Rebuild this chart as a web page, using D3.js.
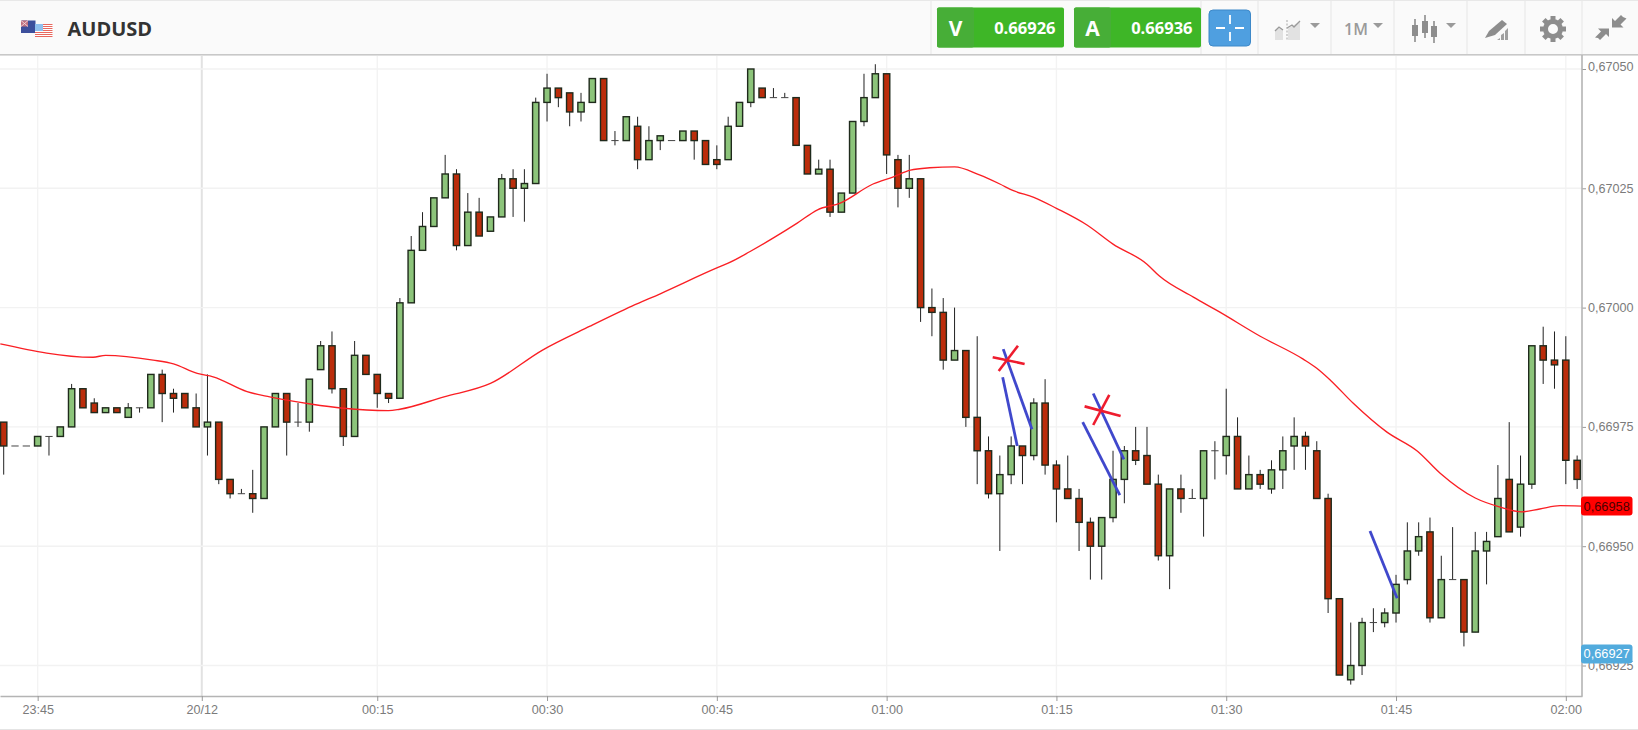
<!DOCTYPE html>
<html lang="en">
<head>
<meta charset="UTF-8">
<title>AUDUSD</title>
<style>
    html, body { margin: 0; padding: 0; background: #fff; overflow: hidden; }
    svg { display: block; font-family: "Liberation Sans", Arial, sans-serif; }
    .axis text { fill: #7b7b7b; font-size: 12.6px; font-family: "Liberation Sans", Arial, sans-serif; }
</style>
<script src="https://d3js.org/d3.v7.min.js"></script>
</head>
<body>
<script>
// prices are in 1/100000, e.g. 66976 = 0,66976. one candle per minute from 23:42
var startTime = new Date(2019, 11, 19, 23, 42);

var opens = [
    66976, 66971, 66971, 66971, 66973, 66973, 66975, 66983, 66980, 66978,
    66979, 66977, 66979, 66979, 66986, 66982, 66982, 66979, 66975, 66976,
    66964, 66961, 66961, 66960, 66975, 66982, 66976, 66976, 66987, 66992,
    66983, 66973, 66990, 66986, 66982, 66981, 67001, 67012, 67017, 67023,
    67028, 67013, 67020, 67016, 67019, 67027, 67025, 67026, 67043, 67046,
    67045, 67041, 67043, 67048, 67035, 67035, 67038, 67031, 67035, 67035,
    67035, 67037, 67035, 67031, 67031, 67038, 67043, 67046, 67044, 67044,
    67044, 67034, 67028, 67029, 67020, 67024, 67039, 67044, 67049, 67031,
    67025, 67027, 67000, 66999, 66989, 66991, 66977, 66970, 66961, 66965,
    66971, 66969, 66980, 66967, 66962, 66960, 66955, 66950, 66956, 66964,
    66970, 66969, 66963, 66948, 66962, 66960, 66960, 66970, 66969, 66973,
    66962, 66965, 66962, 66966, 66971, 66973, 66970, 66960, 66939, 66922,
    66925, 66934, 66934, 66936, 66943, 66949, 66953, 66935, 66943, 66943,
    66932, 66949, 66952, 66964, 66954, 66963, 66992, 66989, 66989, 66968
];
var highs = [
    66976, 66971, 66971, 66973, 66973, 66975, 66984, 66983, 66981, 66979,
    66979, 66980, 66979, 66986, 66987, 66983, 66982, 66982, 66986, 66976,
    66964, 66962, 66966, 66975, 66982, 66982, 66980, 66985, 66993, 66995,
    66983, 66993, 66990, 66986, 66982, 67002, 67015, 67020, 67023, 67032,
    67029, 67024, 67023, 67019, 67028, 67029, 67029, 67044, 67049, 67046,
    67045, 67045, 67048, 67048, 67037, 67040, 67040, 67038, 67036, 67035,
    67037, 67037, 67035, 67034, 67040, 67043, 67050, 67046, 67046, 67045,
    67044, 67034, 67031, 67031, 67024, 67039, 67049, 67051, 67049, 67032,
    67032, 67027, 67004, 67002, 67000, 66991, 66994, 66973, 66969, 66973,
    66971, 66981, 66985, 66968, 66969, 66962, 66956, 66956, 66970, 66971,
    66975, 66975, 66965, 66962, 66965, 66962, 66970, 66972, 66983, 66977,
    66969, 66966, 66968, 66973, 66977, 66974, 66972, 66961, 66939, 66934,
    66935, 66937, 66937, 66944, 66955, 66955, 66956, 66948, 66954, 66943,
    66953, 66953, 66967, 66976, 66969, 66992, 66996, 66995, 66994, 66969
];
var lows = [
    66965, 66971, 66971, 66971, 66969, 66973, 66975, 66979, 66978, 66978,
    66978, 66977, 66978, 66979, 66976, 66978, 66979, 66975, 66969, 66963,
    66960, 66961, 66957, 66960, 66975, 66969, 66975, 66974, 66987, 66982,
    66971, 66973, 66986, 66979, 66980, 66981, 67001, 67012, 67017, 67023,
    67012, 67013, 67015, 67016, 67019, 67019, 67018, 67026, 67039, 67042,
    67038, 67039, 67043, 67035, 67034, 67035, 67029, 67031, 67033, 67035,
    67035, 67031, 67030, 67029, 67031, 67038, 67042, 67044, 67044, 67044,
    67034, 67028, 67028, 67019, 67020, 67024, 67038, 67044, 67028, 67021,
    67023, 66997, 66994, 66987, 66989, 66975, 66963, 66960, 66949, 66963,
    66963, 66968, 66965, 66955, 66960, 66949, 66943, 66943, 66955, 66959,
    66967, 66963, 66947, 66941, 66957, 66960, 66952, 66964, 66965, 66962,
    66962, 66962, 66961, 66962, 66966, 66966, 66960, 66936, 66923, 66921,
    66923, 66932, 66933, 66934, 66942, 66948, 66934, 66935, 66943, 66929,
    66932, 66942, 66952, 66953, 66952, 66962, 66984, 66983, 66963, 66962
];
var closes = [
    66971, 66971, 66971, 66973, 66973, 66975, 66983, 66979, 66978, 66979,
    66978, 66979, 66979, 66986, 66982, 66981, 66979, 66975, 66976, 66964,
    66961, 66961, 66960, 66975, 66982, 66976, 66976, 66985, 66992, 66983,
    66973, 66990, 66986, 66982, 66981, 67001, 67012, 67017, 67023, 67028,
    67013, 67020, 67015, 67019, 67027, 67025, 67026, 67043, 67046, 67044,
    67041, 67043, 67048, 67035, 67035, 67040, 67031, 67035, 67036, 67035,
    67037, 67035, 67030, 67030, 67038, 67043, 67050, 67044, 67044, 67044,
    67034, 67028, 67029, 67020, 67024, 67039, 67044, 67049, 67032, 67025,
    67027, 67000, 66999, 66989, 66991, 66977, 66970, 66961, 66965, 66971,
    66969, 66980, 66967, 66962, 66960, 66955, 66950, 66956, 66964, 66970,
    66968, 66963, 66948, 66962, 66960, 66960, 66970, 66970, 66973, 66962,
    66965, 66963, 66966, 66970, 66973, 66971, 66960, 66939, 66923, 66925,
    66934, 66934, 66936, 66942, 66949, 66952, 66935, 66943, 66943, 66932,
    66949, 66951, 66960, 66953, 66963, 66992, 66989, 66988, 66968, 66964
];

// moving average: minutes after startTime, price
var maMinutes = [
    -0.3, 7.9, 9, 13.2, 15, 17.1, 18.5, 21.5, 23.5, 27.1, 30, 34, 35, 38.9, 43, 47.6, 51.8, 55.5,
    58, 63, 64, 65.9, 68, 70.1, 71.9, 73.9, 76.8, 78.6, 80.1, 81.8, 84, 86.2, 88, 89.2, 91, 93,
    95.7, 98, 101, 102.1, 105.1, 107.4, 111, 114.8, 116, 117.2, 119.2, 122.2, 124.9, 126.9,
    130, 132.2, 134.1, 135.7, 137.5, 139.4
];
var maValues = [
    66992.4, 66989.6, 66990, 66989, 66988.2, 66986.2, 66985.5, 66982.4, 66981.3, 66979.8, 66978.9,
    66978.4, 66978.7, 66981.3, 66984.1, 66991.1, 66996.1, 67000.3, 67002.9, 67008.3, 67009.3,
    67011.7, 67014.6, 67017.7, 67020.5, 67021.9, 67025.9, 67027.4, 67028.8, 67029.3, 67029.5,
    67027.8, 67025.9, 67024.5, 67023.1, 67020.8, 67017.3, 67013.3, 67009.1, 67006.6, 67002.2,
    66999.1, 66994, 66989.2, 66987.3, 66984.8, 66980, 66973.9, 66969.9, 66965.3, 66960.1,
    66958.2, 66957.2, 66957.8, 66958.5, 66958.4
];

// hand drawn marks on the chart: [minute, price, minute, price]
var blueStrokes = [
    [88.25, 66985.4, 89.54, 66971],
    [88.3, 66991.3, 90.84, 66974.5],
    [95.32, 66976, 98.6, 66960.7],
    [96.25, 66982, 98.96, 66968.2],
    [120.7, 66953.2, 123.1, 66939.1]
];
var redStrokes = [
    [87.37, 66989.6, 90.19, 66988.2],
    [89.6, 66992, 87.9, 66986.7],
    [95.49, 66979.3, 98.67, 66977.3],
    [97.67, 66981.7, 96.25, 66975.4]
];

var priceTicks = [67050, 67025, 67000, 66975, 66950, 66925];
var bidPrice = 66926, askPrice = 66936;
var maPrice = 66958, currentPrice = 66927;

var width = 1638, height = 730;
var chart = { left: 0, right: 1582, top: 56, bottom: 696.5 };

function minuteToDate(m) { return new Date(+startTime + m * 60000); }
function fmtPrice(v) { return (v / 100000).toFixed(5); }

var x = d3.scaleTime()
    .domain([minuteToDate(-0.327), minuteToDate(139.43)])
    .range([chart.left, chart.right]);
var y = d3.scaleLinear().domain([66925, 67050]).range([665.5, 69]);

var svg = d3.select("body").append("svg").attr("width", width).attr("height", height);

// header bar
svg.append("rect").attr("width", width).attr("height", 55).attr("fill", "#fafafa");
svg.append("rect").attr("width", width).attr("height", 1).attr("fill", "#e8e8e8");
svg.append("rect").attr("y", 54).attr("width", width).attr("height", 1.6).attr("fill", "#c8c8c8");
svg.append("rect").attr("y", 729).attr("width", width).attr("height", 1).attr("fill", "#e4e4e4");

// the date line sits in the gap before the first candle of the new day
var dayTick = minuteToDate(17.5);
function isDay(d) { return +d === +dayTick; }
var timeTicks = x.ticks(d3.timeMinute.every(15)).map(function(d) {
    return d.getHours() === 0 && d.getMinutes() === 0 ? dayTick : d;
});

// grid
svg.append("g").selectAll("line").data(timeTicks).join("line")
    .attr("x1", d => x(d)).attr("x2", d => x(d))
    .attr("y1", chart.top).attr("y2", chart.bottom)
    .attr("stroke", d => isDay(d) ? "#e2e2e2" : "#f3f3f3")
    .attr("stroke-width", d => isDay(d) ? 2 : 1.4);
svg.append("g").selectAll("line").data(priceTicks).join("line")
    .attr("x1", chart.left).attr("x2", chart.right)
    .attr("y1", d => y(d)).attr("y2", d => y(d))
    .attr("stroke", "#f2f2f2").attr("stroke-width", 1.4);

// axes
var fmtClock = d3.timeFormat("%H:%M");
var xAxis = d3.axisBottom(x).tickValues(timeTicks).tickSizeInner(5).tickSizeOuter(0).tickPadding(4)
    .tickFormat(d => isDay(d) ? "20/12" : fmtClock(d));
var xG = svg.append("g").attr("class", "axis").attr("transform", "translate(0," + (chart.bottom - 0.5) + ")").call(xAxis);
xG.select(".domain").attr("stroke", "#b4b4b4").attr("stroke-width", 1.6);
xG.selectAll(".tick line").attr("stroke", "#999");

var yAxis = d3.axisRight(y).tickValues(priceTicks).tickSize(4).tickPadding(2)
    .tickFormat(d => fmtPrice(d).replace(".", ","));
var yG = svg.append("g").attr("class", "axis").attr("transform", "translate(" + chart.right + ",0)").call(yAxis);
yG.select(".domain").remove();
yG.selectAll(".tick line").attr("stroke", "#999");
// the top label is pushed up a little in the original
yG.selectAll(".tick text").filter(d => d === 67050).attr("dy", "0.15em");
svg.append("line").attr("x1", chart.right).attr("x2", chart.right)
    .attr("y1", chart.top - 1).attr("y2", chart.bottom)
    .attr("stroke", "#b4b4b4").attr("stroke-width", 1.6);

// candles
var candles = opens.map(function(o, i) {
    return { t: minuteToDate(i), o: o, h: highs[i], l: lows[i], c: closes[i] };
});
var bodyW = 6.3;
var candleG = svg.append("g").selectAll("g").data(candles).join("g");
candleG.append("line")
    .attr("x1", d => x(d.t)).attr("x2", d => x(d.t))
    .attr("y1", d => y(d.h)).attr("y2", d => y(d.l))
    .attr("stroke", "#222").attr("stroke-width", 1);
candleG.filter(d => d.o !== d.c).append("rect")
    .attr("x", d => x(d.t) - bodyW / 2)
    .attr("y", d => y(Math.max(d.o, d.c)))
    .attr("width", bodyW)
    .attr("height", d => Math.abs(y(d.o) - y(d.c)))
    .attr("fill", d => d.c > d.o ? "#8cc47a" : "#bb2d0b")
    .attr("stroke", "#1f2a1c").attr("stroke-width", 1.4);
// flat candles are just a dash
candleG.filter(d => d.o === d.c).append("line")
    .attr("x1", d => x(d.t) - bodyW / 2 - 0.5).attr("x2", d => x(d.t) + bodyW / 2 + 0.5)
    .attr("y1", d => y(d.o)).attr("y2", d => y(d.o))
    .attr("stroke", "#444").attr("stroke-width", 1);

// moving average
var maLine = d3.line().x(d => x(minuteToDate(d[0]))).y(d => y(d[1])).curve(d3.curveMonotoneX);
svg.append("path")
    .datum(maMinutes.map((m, i) => [m, maValues[i]]))
    .attr("d", maLine)
    .attr("fill", "none").attr("stroke", "#fa1f24").attr("stroke-width", 1.35);

// hand drawn strokes
function drawStrokes(data, color, w) {
    svg.append("g").selectAll("line").data(data).join("line")
        .attr("x1", d => x(minuteToDate(d[0]))).attr("y1", d => y(d[1]))
        .attr("x2", d => x(minuteToDate(d[2]))).attr("y2", d => y(d[3]))
        .attr("stroke", color).attr("stroke-width", w);
}
drawStrokes(blueStrokes, "#4048cc", 2.8);
drawStrokes(redStrokes, "#ee1c2e", 2.6);

// price badges on the axis
function badge(price, fill, textFill) {
    var g = svg.append("g").attr("transform", "translate(1581," + (y(price) - 2) + ")");
    g.append("rect").attr("y", -9.5).attr("width", 51.5).attr("height", 19).attr("rx", 3).attr("fill", fill);
    g.append("text").attr("x", 25.7).attr("y", 0).attr("dy", "0.35em")
        .attr("text-anchor", "middle").attr("font-size", 12.8).attr("fill", textFill)
        .text(fmtPrice(price).replace(".", ","));
}
badge(maPrice, "#ff0000", "#4a0000");
badge(currentPrice, "#52abdd", "#fff");

// ---- toolbar ----
[931, 1201, 1258, 1331, 1394, 1467, 1525, 1582].forEach(function(sx) {
    svg.append("line").attr("x1", sx).attr("x2", sx).attr("y1", 1).attr("y2", 54)
        .attr("stroke", "#e6e6e6");
});

// flags
var flags = svg.append("g");
flags.append("rect").attr("x", 21).attr("y", 20.5).attr("width", 14.5).attr("height", 12.5).attr("fill", "#3c4f9c");
flags.append("rect").attr("x", 21).attr("y", 20.5).attr("width", 7).attr("height", 6).attr("fill", "#c0707f");
flags.append("path").attr("d", "M21 20.5L28 26.5M28 20.5L21 26.5").attr("stroke", "#f0d8dc").attr("stroke-width", 0.9);
flags.append("rect").attr("x", 35).attr("y", 24).attr("width", 17.5).attr("height", 13).attr("fill", "#fff");
d3.range(0, 7).forEach(function(i) {
    flags.append("rect").attr("x", 35).attr("y", 24 + i * 2).attr("width", 17.5).attr("height", 1)
        .attr("fill", "#e8685f");
});
flags.append("rect").attr("x", 35).attr("y", 24).attr("width", 8).attr("height", 7).attr("fill", "#8fc0ee");

svg.append("text").attr("x", 67.5).attr("y", 36)
    .attr("font-family", "'Open Sans', sans-serif").attr("font-weight", 700).attr("font-size", 20)
    .attr("fill", "#333").text("AUDUSD");

// bid / ask boxes
function quoteBox(bx, letter, price) {
    svg.append("rect").attr("x", bx).attr("y", 7.5).attr("width", 127).attr("height", 40)
        .attr("rx", 2).attr("fill", "#3eb627");
    svg.append("rect").attr("x", bx).attr("y", 7.5).attr("width", 37).attr("height", 40)
        .attr("rx", 2).attr("fill", "#47ae37");
    svg.append("text").attr("x", bx + 18.5).attr("y", 36)
        .attr("text-anchor", "middle").attr("font-family", "'Open Sans', sans-serif")
        .attr("font-weight", 700).attr("font-size", 21).attr("fill", "#fff").text(letter);
    svg.append("text").attr("x", bx + 118.5).attr("y", 33.5)
        .attr("text-anchor", "end").attr("font-family", "'Open Sans', sans-serif")
        .attr("font-weight", 700).attr("font-size", 16.5).attr("fill", "#fff").text(fmtPrice(price));
}
quoteBox(937, "V", bidPrice);
quoteBox(1074, "A", askPrice);

// crosshair button
svg.append("rect").attr("x", 1209).attr("y", 10).attr("width", 41.5).attr("height", 36)
    .attr("rx", 4).attr("fill", "#4f9fe0").attr("stroke", "#3d88c8").attr("stroke-width", 1);
svg.append("path").attr("d", "M1230 15v9M1230 32v9M1216 28h9M1235 28h9")
    .attr("stroke", "#fff").attr("stroke-width", 1.8);

var iconGrey = "#8d8d8d";
function caret(cx) {
    svg.append("path").attr("d", "M" + (cx - 5) + " 23h10l-5 5z").attr("fill", "#9a9a9a");
}
caret(1315); caret(1378); caret(1451);

// chart type icon
svg.append("path").attr("d", "M1275 40V30l4-3 4 3v10zM1288 40V28l6-3 6-4v19z").attr("fill", "#e2e2e2");
svg.append("path").attr("d", "M1275 31l4-4 4 3M1287 28l5-3 2 2 6-6").attr("fill", "none").attr("stroke", "#9a9a9a").attr("stroke-width", 1.3);
svg.append("line").attr("x1", 1287).attr("x2", 1287).attr("y1", 20).attr("y2", 41)
    .attr("stroke", "#a8a8a8").attr("stroke-dasharray", "2 1.5");

svg.append("text").attr("x", 1344).attr("y", 35)
    .attr("font-family", "'Open Sans', sans-serif").attr("font-weight", 600).attr("font-size", 16)
    .attr("fill", "#9a9a9a").text("1M");

// candle icon
[[1415, 25, 36, 19, 42], [1425, 21, 33, 15, 38], [1434, 26, 37, 21, 43]].forEach(function(c) {
    svg.append("line").attr("x1", c[0]).attr("x2", c[0]).attr("y1", c[3]).attr("y2", c[4])
        .attr("stroke", iconGrey).attr("stroke-width", 1.6);
    svg.append("rect").attr("x", c[0] - 3).attr("y", c[1]).attr("width", 6).attr("height", c[2] - c[1])
        .attr("fill", iconGrey);
});

// pencil icon
svg.append("path").attr("d", "M1485 38l4-7 13-11 5 4-12 11z").attr("fill", iconGrey);
svg.append("path").attr("d", "M1497 40l3-2v2zM1501 40v-5l3-2v7zM1505 40V31l3-3v12z").attr("fill", "#a0a0a0");

// gear
var gear = svg.append("g").attr("transform", "translate(1553,29)");
gear.append("circle").attr("r", 7.5).attr("fill", "none").attr("stroke", iconGrey).attr("stroke-width", 5);
d3.range(0, 8).forEach(function(i) {
    gear.append("rect").attr("x", -2.5).attr("y", -13).attr("width", 5).attr("height", 5)
        .attr("fill", iconGrey).attr("transform", "rotate(" + i * 45 + ")");
});

// compress arrows
svg.append("path").attr("d", "M1623 17l-2-2-6 6-3-3v9.5h11.5l-3-3 6-6z").attr("fill", iconGrey);
svg.append("path").attr("d", "M1598 38l2 2 6-6 3 3V28.5h-11l3 3-6 6z").attr("fill", iconGrey);
</script>
</body>
</html>
